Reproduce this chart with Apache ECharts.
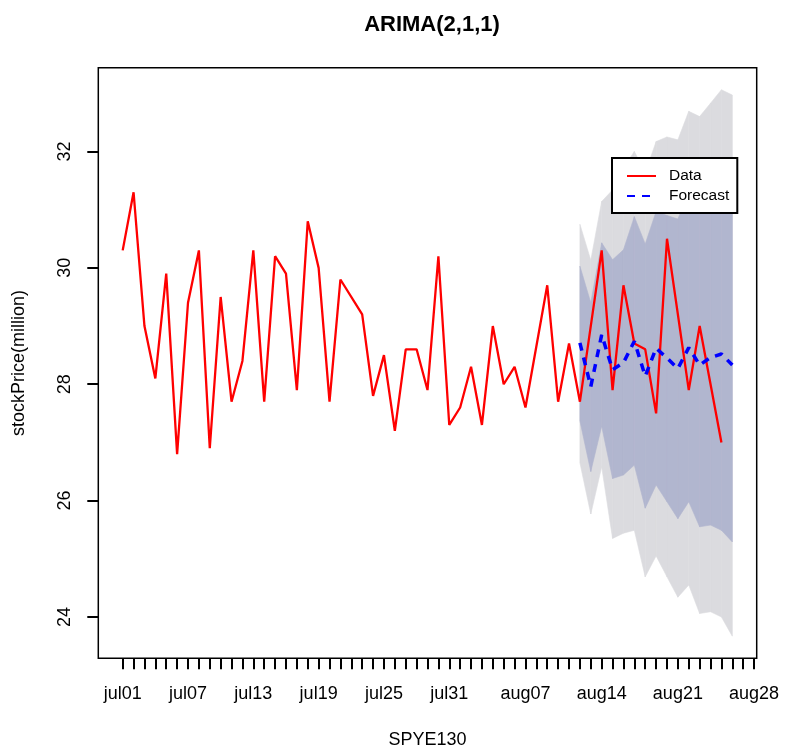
<!DOCTYPE html>
<html>
<head>
<meta charset="utf-8">
<script src="https://cdn.jsdelivr.net/npm/echarts@6/dist/echarts.min.js"></script>
<style>
html,body{margin:0;padding:0;background:#fff;}
#chart{width:785px;height:748px;}
</style>
</head>
<body>
<div id="chart"></div>
<script>
// ---- data (x = day index, 0 = jul01) ----
const dataDays   = [0,1,2,3,4,5,6,7,8,9,10,11,12,13,14,15,16,17,18,19,20,22,23,24,25,26,27,28,29,30,31,32,33,34,35,36,37,39,40,41,42,44,45,46,47,48,49,50,52,53,55];
const dataValues = [30.3,31.3,29.0,28.1,29.9,26.8,29.4,30.3,26.9,29.5,27.7,28.4,30.3,27.7,30.2,29.9,27.9,30.8,30.0,27.7,29.8,29.2,27.8,28.5,27.2,28.6,28.6,27.9,30.2,27.3,27.6,28.3,27.3,29.0,28.0,28.3,27.6,29.7,27.7,28.7,27.7,30.3,27.9,29.7,28.7,28.6,27.5,30.5,27.9,29.0,27.0];

const fcDays  = [42,43,44,45,46,47,48,49,50,51,52,53,54,55,56];
const fcMean  = [28.71,27.96,28.85,28.25,28.37,28.74,28.14,28.62,28.45,28.27,28.63,28.33,28.46,28.52,28.33];
const fcLo80  = [27.37,26.50,27.28,26.38,26.44,26.61,25.87,26.27,25.98,25.69,25.98,25.55,25.58,25.49,25.29];
const fcHi80  = [30.03,29.40,30.43,30.14,30.31,30.88,30.41,30.97,30.90,30.84,31.29,31.12,31.32,31.53,31.40];
const fcLo95  = [26.65,25.77,26.58,25.35,25.44,25.49,24.69,25.05,24.69,24.34,24.55,24.06,24.09,24.00,23.67];
const fcHi95  = [30.75,30.13,31.14,31.34,31.72,32.00,31.63,32.17,32.25,32.20,32.69,32.60,32.83,33.06,32.97];

const xTickDays   = [0,1,2,3,4,5,6,7,8,9,10,11,12,13,14,15,16,17,18,19,20,21,22,23,24,25,26,27,28,29,30,31,32,33,34,35,36,37,38,39,40,41,42,43,44,45,46,47,48,49,50,51,52,53,54,55,56,57,58];
const xLabelDays  = [0,6,12,18,24,30,37,44,51,58];
const xLabelTexts = ['jul01','jul07','jul13','jul19','jul25','jul31','aug07','aug14','aug21','aug28'];
const yTicks      = [24,26,28,30,32];

const FONT = '"Liberation Sans", Arial, Helvetica, sans-serif';
const LIGHT = '#dbdbdf';
const DARK  = '#b1b6cf';

const pairs = (xs, ys) => xs.map((x, i) => [x, ys[i]]);
// band segments: [x0, lo0, hi0, x1, lo1, hi1]
const bandSegs = (xs, lo, hi) => xs.slice(0, -1).map((x, i) => [x, lo[i], hi[i], xs[i+1], lo[i+1], hi[i+1]]);

function bandSeries(name, segs, color, z) {
  return {
    name, type:'custom', silent:true, z,
    data: segs,
    encode:{x:[0,3], y:[1,2,4,5]},
    renderItem:(params, api) => {
      const a = api.coord([api.value(0), api.value(2)]);
      const b = api.coord([api.value(3), api.value(5)]);
      const c = api.coord([api.value(3), api.value(4)]);
      const d = api.coord([api.value(0), api.value(1)]);
      return {type:'polygon', shape:{points:[a,b,c,d]}, style:{fill:color, stroke:color, lineWidth:0.6}};
    }
  };
}

const chart = echarts.init(document.getElementById('chart'), null, {renderer:'canvas'});
chart.setOption({
  animation:false,
  backgroundColor:'#ffffff',
  title:{
    text:'ARIMA(2,1,1)', left:427, top:9, textAlign:'center',
    textStyle:{fontFamily:FONT, fontSize:22, fontWeight:'bold', color:'#000'}
  },
  legend:{
    orient:'vertical', left:612, top:158,
    padding:[10,8,9,14], itemGap:4, itemWidth:29, itemHeight:14,
    itemStyle:{opacity:0},
    borderColor:'#000', borderWidth:2, backgroundColor:'#fff',
    data:['Data','Forecast'],
    textStyle:{fontFamily:FONT, fontSize:15.5, color:'#000', padding:[0,0,0,8]}
  },
  grid:{left:98.3, right:28.3, top:67.7, bottom:89.7, outerBoundsMode:'none', containLabel:false,
        show:true, borderColor:'#000', borderWidth:1.5, backgroundColor:'transparent'},
  xAxis:{
    type:'value', min:-2.24, max:58.24,
    name:'SPYE130', nameLocation:'middle', nameGap:73,
    nameTextStyle:{fontFamily:FONT, fontSize:18, color:'#000'},
    axisLine:{show:false, onZero:false},
    axisTick:{show:true, inside:false, length:11, customValues:xTickDays, lineStyle:{color:'#000', width:2}},
    axisLabel:{customValues:xLabelDays, margin:27, fontFamily:FONT, fontSize:18, color:'#000',
      formatter:(v)=>{const i = xLabelDays.indexOf(Math.round(v)); return i>=0 ? xLabelTexts[i] : '';}},
    splitLine:{show:false}
  },
  yAxis:{
    type:'value', min:23.29, max:33.44,
    name:'stockPrice(million)', nameLocation:'middle', nameGap:70, nameRotate:90,
    nameTextStyle:{fontFamily:FONT, fontSize:18, color:'#000'},
    axisLine:{show:false, onZero:false},
    axisTick:{show:true, inside:false, length:11, customValues:yTicks, lineStyle:{color:'#000', width:2}},
    axisLabel:{customValues:yTicks, rotate:90, margin:24, fontFamily:FONT, fontSize:18, color:'#000'},
    splitLine:{show:false}
  },
  series:[
    bandSeries('band95', bandSegs(fcDays, fcLo95, fcHi95), LIGHT, 1),
    bandSeries('band80', bandSegs(fcDays, fcLo80, fcHi80), DARK, 2),
    {
      name:'Data', type:'line', data:pairs(dataDays, dataValues), symbol:'none', z:5,
      lineStyle:{color:'#ff0000', width:2.3}, itemStyle:{color:'#ff0000'}
    },
    {
      name:'Forecast', type:'line', data:pairs(fcDays, fcMean), symbol:'none', z:6,
      lineStyle:{color:'#0000ff', width:3.5, type:[8,7]}, itemStyle:{color:'#0000ff'}
    }
  ]
});
</script>
</body>
</html>
